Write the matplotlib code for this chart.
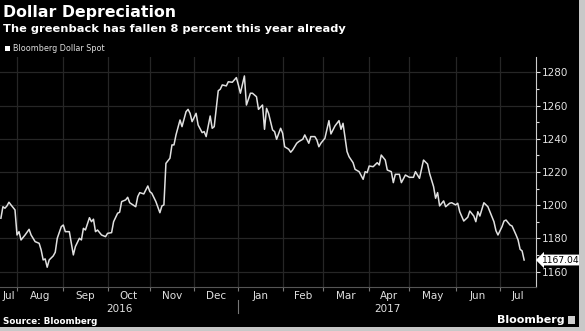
import numpy as np
from matplotlib import pyplot as plt
from matplotlib.patches import Rectangle

dates = [
    "2016-07-20", "2016-07-21", "2016-07-22", "2016-07-25", "2016-07-26", "2016-07-27", "2016-07-29",
    "2016-08-01", "2016-08-02", "2016-08-03", "2016-08-05", "2016-08-09", "2016-08-10", "2016-08-12",
    "2016-08-16", "2016-08-17", "2016-08-18", "2016-08-19", "2016-08-22", "2016-08-23", "2016-08-25",
    "2016-08-26", "2016-08-29", "2016-08-31", "2016-09-01", "2016-09-02", "2016-09-06", "2016-09-08",
    "2016-09-09", "2016-09-13", "2016-09-14", "2016-09-15", "2016-09-16", "2016-09-20", "2016-09-21",
    "2016-09-22", "2016-09-23", "2016-09-26", "2016-09-28", "2016-09-30", "2016-10-03", "2016-10-05",
    "2016-10-06", "2016-10-10", "2016-10-11", "2016-10-12", "2016-10-14", "2016-10-17", "2016-10-18",
    "2016-10-21", "2016-10-24", "2016-10-25", "2016-10-27", "2016-10-31", "2016-11-01", "2016-11-02",
    "2016-11-04", "2016-11-08", "2016-11-09", "2016-11-10", "2016-11-11", "2016-11-15", "2016-11-16",
    "2016-11-17", "2016-11-18", "2016-11-22", "2016-11-23", "2016-11-25", "2016-11-28", "2016-11-29",
    "2016-11-30", "2016-12-02", "2016-12-05", "2016-12-07", "2016-12-08", "2016-12-09", "2016-12-13",
    "2016-12-14", "2016-12-15", "2016-12-19", "2016-12-20", "2016-12-21", "2016-12-23", "2016-12-26",
    "2016-12-28", "2016-12-30", "2017-01-02", "2017-01-03", "2017-01-05", "2017-01-06", "2017-01-10",
    "2017-01-11", "2017-01-13", "2017-01-16", "2017-01-18", "2017-01-19", "2017-01-20", "2017-01-23",
    "2017-01-25", "2017-01-26", "2017-01-27", "2017-01-31", "2017-02-01", "2017-02-02", "2017-02-06",
    "2017-02-07", "2017-02-08", "2017-02-10", "2017-02-13", "2017-02-15", "2017-02-16", "2017-02-20",
    "2017-02-21", "2017-02-23", "2017-02-24", "2017-02-27", "2017-02-28", "2017-03-02", "2017-03-06",
    "2017-03-07", "2017-03-08", "2017-03-09", "2017-03-13", "2017-03-14", "2017-03-15", "2017-03-17",
    "2017-03-20", "2017-03-22", "2017-03-23", "2017-03-27", "2017-03-29", "2017-03-30", "2017-03-31",
    "2017-04-03", "2017-04-05", "2017-04-07", "2017-04-10", "2017-04-11", "2017-04-13", "2017-04-14",
    "2017-04-18", "2017-04-19", "2017-04-20", "2017-04-24", "2017-04-25", "2017-04-27", "2017-05-01",
    "2017-05-03", "2017-05-04", "2017-05-08", "2017-05-10", "2017-05-12", "2017-05-15", "2017-05-17",
    "2017-05-18", "2017-05-19", "2017-05-22", "2017-05-24", "2017-05-25", "2017-05-29", "2017-05-30",
    "2017-06-01", "2017-06-02", "2017-06-05", "2017-06-07", "2017-06-09", "2017-06-12", "2017-06-14",
    "2017-06-15", "2017-06-16", "2017-06-19", "2017-06-21", "2017-06-23", "2017-06-26", "2017-06-28",
    "2017-06-29", "2017-06-30", "2017-07-04", "2017-07-05", "2017-07-06", "2017-07-10", "2017-07-11",
    "2017-07-13", "2017-07-14", "2017-07-17", "2017-07-18", "2017-07-19",
]

dollar_spot = [
    1192.2, 1199.1, 1198.2, 1199.6, 1201.8, 1200.2, 1197.2,
    1182.1, 1184.1, 1179.1, 1182.1, 1185.5, 1182.1, 1178.1,
    1177.1, 1173.1, 1167.1, 1167.7, 1162.7, 1167.1, 1169.5,
    1171.7, 1180.1, 1187.1, 1188.1, 1184.1, 1184.1, 1170.1,
    1175.1, 1180.1, 1179.1, 1186.1, 1185.1, 1192.5, 1190.1,
    1191.6, 1184.1, 1185.1, 1182.1, 1181.1, 1183.1, 1183.5,
    1190.1, 1195.2, 1195.8, 1202.2, 1203.2, 1204.8, 1201.5,
    1199.1, 1205.2, 1207.6, 1206.8, 1211.6, 1208.2, 1207.2,
    1202.2, 1195.5, 1199.6, 1200.2, 1225.2, 1228.3, 1236.3,
    1236.3, 1242.3, 1251.3, 1247.3, 1256.3, 1257.7, 1255.3,
    1250.3, 1255.3, 1248.3, 1243.7, 1244.3, 1241.3, 1253.7,
    1246.3, 1247.3, 1268.9, 1269.8, 1272.4, 1271.8, 1274.3,
    1274.0, 1276.8, 1272.4, 1267.4, 1277.8, 1260.3, 1267.4,
    1267.4, 1265.3, 1257.7, 1260.3, 1245.7, 1258.3, 1255.3,
    1245.3, 1244.3, 1239.7, 1246.3, 1243.3, 1235.2, 1233.7,
    1231.9, 1233.3, 1237.3, 1238.3, 1239.7, 1242.3, 1237.3,
    1241.3, 1241.3, 1239.3, 1235.2, 1237.3, 1240.3, 1250.9,
    1242.9, 1245.3, 1247.7, 1250.9, 1245.7, 1249.3, 1232.3,
    1229.2, 1225.6, 1221.6, 1220.2, 1215.6, 1220.2, 1219.6,
    1223.6, 1223.2, 1225.6, 1224.2, 1230.2, 1227.2, 1221.2,
    1220.2, 1213.6, 1218.6, 1218.6, 1213.6, 1218.2, 1216.8,
    1216.8, 1220.2, 1216.2, 1227.2, 1224.8, 1219.2, 1211.2,
    1204.2, 1207.6, 1199.6, 1202.6, 1199.1, 1201.2, 1201.5,
    1200.2, 1201.2, 1196.1, 1190.5, 1192.8, 1196.5, 1193.5,
    1190.1, 1196.1, 1193.5, 1201.5, 1199.1, 1196.1, 1190.1,
    1184.7, 1182.1, 1187.1, 1190.5, 1191.1, 1188.1, 1187.5,
    1182.1, 1179.1, 1173.5, 1172.5, 1167.04,
]

month_starts = ["2016-08-01", "2016-09-01", "2016-10-01", "2016-11-01", "2016-12-01",
                "2017-01-01", "2017-02-01", "2017-03-01", "2017-04-01", "2017-05-01",
                "2017-06-01", "2017-07-01"]
month_labels = ["Jul", "Aug", "Sep", "Oct", "Nov", "Dec", "Jan", "Feb", "Mar", "Apr", "May", "Jun", "Jul"]
y_ticks = [1160, 1180, 1200, 1220, 1240, 1260, 1280]

BG = "black"
FG = "#e0e0e0"
GRID = "#262626"

# x axis counts trading (business) days, like the terminal chart
origin = "2016-08-01"
x = np.busday_count(origin, np.array(dates, dtype="datetime64[D]"))
first_bd = np.busday_offset(np.array(month_starts, dtype="datetime64[D]"), 0, roll="forward")
bounds = np.busday_count(origin, first_bd)
x_lo, x_hi = -8.45, 257.9
edges = np.concatenate([[x_lo], bounds, [x_hi]])
mids = (edges[:-1] + edges[1:]) / 2

fig = plt.figure(figsize=(5.85, 3.31), dpi=100, facecolor=BG)
ax = fig.add_axes([0.0, 44 / 331, 536 / 585, 230 / 331])
ax.set_facecolor(BG)

ax.plot(x, dollar_spot, color=FG, lw=1.1, zorder=3)

ax.set_xlim(x_lo, x_hi)
ax.set_ylim(1150.8, 1289.2)

ax.yaxis.tick_right()
ax.set_yticks(y_ticks)
ax.set_yticks(np.arange(1170, 1290, 20), minor=True)
ax.tick_params(axis="y", which="major", colors=FG, labelsize=7.5, length=3, pad=1.5, width=0.8)
ax.tick_params(axis="y", which="minor", colors=FG, length=2, width=0.8)

ax.set_xticks(bounds)
ax.set_xticklabels([])
ax.set_xticks(mids, minor=True)
ax.set_xticklabels(month_labels, minor=True)
ax.tick_params(axis="x", which="major", colors="#777777", length=3, width=0.8)
ax.tick_params(axis="x", which="minor", length=0, colors=FG, labelsize=7.5, pad=3)

ax.grid(True, which="major", color=GRID, lw=0.9)
for side in ["top", "left"]:
    ax.spines[side].set_visible(False)
ax.spines["right"].set_color("#cccccc")
ax.spines["bottom"].set_color("#555555")

# year labels under the month labels
ax.text((x_lo + bounds[5]) / 2, -0.075, "2016", transform=ax.get_xaxis_transform(),
        ha="center", va="top", color=FG, fontsize=7.5)
ax.text((bounds[5] + x_hi) / 2, -0.075, "2017", transform=ax.get_xaxis_transform(),
        ha="center", va="top", color=FG, fontsize=7.5)
ax.plot([bounds[5], bounds[5]], [-0.055, -0.115], transform=ax.get_xaxis_transform(),
        color="#777777", lw=0.8, clip_on=False)

# last value tag
ax.annotate(f"{dollar_spot[-1]:.2f}", xy=(1, dollar_spot[-1]),
            xycoords=("axes fraction", "data"), xytext=(4, 0), textcoords="offset points",
            ha="left", va="center", fontsize=6.6, color="black",
            bbox=dict(boxstyle="larrow,pad=0.1", fc="white", ec="none"))

fig.text(0.005, 0.962, "Dollar Depreciation", color="white", fontsize=11.3,
         fontweight="bold", va="center", ha="left")
fig.text(0.005, 0.912, "The greenback has fallen 8 percent this year already", color="white",
         fontsize=8.2, fontweight="bold", va="center", ha="left")
fig.patches.append(Rectangle((5 / 585, 1 - 51 / 331), 5 / 585, 5 / 331,
                             transform=fig.transFigure, fc="white", ec="none"))
fig.text(13 / 585, 1 - 48.5 / 331, "Bloomberg Dollar Spot", color=FG, fontsize=5.8,
         va="center", ha="left")

fig.text(0.005, 1 - 321 / 331, "Source: Bloomberg", color="white", fontsize=6.3,
         fontweight="bold", va="center", ha="left")
fig.text(565 / 585, 1 - 320 / 331, "Bloomberg", color="white", fontsize=8,
         fontweight="bold", va="center", ha="right")
fig.patches.append(Rectangle((568 / 585, 1 - 324 / 331), 7 / 585, 8 / 331,
                             transform=fig.transFigure, fc="#cfcfcf", ec="none"))

# screenshot frame on right and bottom
fig.patches.append(Rectangle((579 / 585, 0), 6 / 585, 1, transform=fig.transFigure,
                             fc="#c8c8c8", ec="none"))
fig.patches.append(Rectangle((0, 0), 1, 4 / 331, transform=fig.transFigure,
                             fc="#c8c8c8", ec="none"))

fig.savefig("out.png", dpi=100, facecolor=BG)
